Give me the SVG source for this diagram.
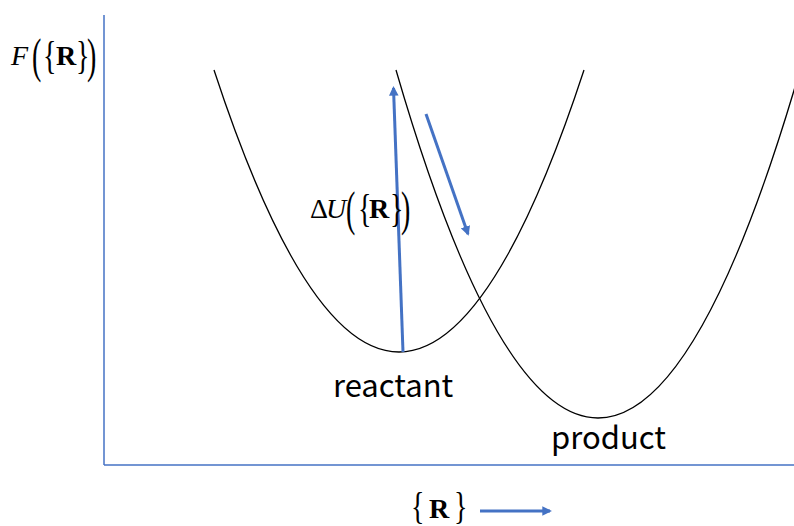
<svg xmlns="http://www.w3.org/2000/svg" width="794" height="526" viewBox="0 0 794 526">
<style>
.axis{stroke:#4472C4;stroke-width:1.5;fill:none}
.curve{stroke:#000;stroke-width:1.3;fill:none}
.arr{stroke:#4472C4;stroke-width:3;fill:none}
.lbl{font-family:"Noto Sans CJK JP","Noto Sans",sans-serif;font-size:31px;fill:#000}
.m{font-family:"Liberation Serif",serif;fill:#000;font-size:28px}
.it{font-style:italic}
.b{font-weight:bold}
</style>
<defs>
<marker id="ah" viewBox="0 0 10 10" refX="8" refY="5" markerWidth="3.2" markerHeight="3.2" orient="auto" markerUnits="strokeWidth">
<path d="M0,0 L10,5 L0,10 z" fill="#4472C4"/>
</marker>
</defs>
<g id="axes">
<line class="axis" x1="104" y1="15" x2="104" y2="465"/>
<line class="axis" x1="104" y1="465" x2="794" y2="465"/>
</g>
<g id="reactant-curve">
<path class="curve" d="M214,70 Q399,634 584,70"/>
</g>
<g id="product-curve">
<path class="curve" d="M396,70 Q598,766 800,70"/>
</g>
<g id="connectors">
<line class="arr" x1="403" y1="352" x2="393.5" y2="88" marker-end="url(#ah)"/>
<line class="arr" x1="426" y1="114" x2="468" y2="234" marker-end="url(#ah)"/>
<line class="arr" x1="480" y1="511" x2="550" y2="511" marker-end="url(#ah)"/>
</g>
<g id="y-label">
<text class="m it" x="11" y="65" font-size="29">F</text>
<text class="m" transform="translate(32,72) scale(1,1.75)">(</text>
<text class="m" transform="translate(43,69) scale(1,1.4)">{</text>
<text class="m b" x="56" y="65" font-size="27">R</text>
<text class="m" transform="translate(76,69) scale(1,1.4)">}</text>
<text class="m" transform="translate(87,72) scale(1,1.75)">)</text>
</g>
<g id="du-label">
<text class="m" x="310" y="218" font-size="25">Δ</text>
<text class="m it" x="326" y="218" font-size="27">U</text>
<text class="m" transform="translate(346,225) scale(1,1.75)">(</text>
<text class="m" transform="translate(358,222) scale(1,1.4)">{</text>
<text class="m b" x="369" y="218" font-size="27">R</text>
<text class="m" transform="translate(390,222) scale(1,1.4)">}</text>
<text class="m" transform="translate(401,225) scale(1,1.75)">)</text>
</g>
<g id="x-label">
<text class="m" transform="translate(411,519) scale(1,1.35)">{</text>
<text class="m b" x="429" y="518" font-size="27">R</text>
<text class="m" transform="translate(454,519) scale(1,1.35)">}</text>
</g>
<g id="reactant">
<text class="lbl" x="333" y="397">reactant</text>
</g>
<g id="product">
<text class="lbl" x="551" y="449">product</text>
</g>
</svg>
